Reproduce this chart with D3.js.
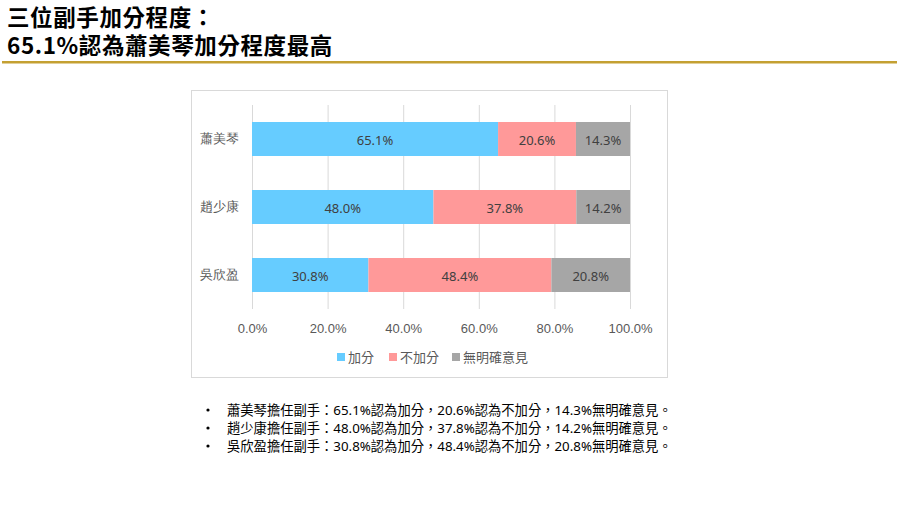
<!DOCTYPE html>
<html lang="zh-Hant-TW">
<head>
<meta charset="utf-8">
<script src="https://cdn.jsdelivr.net/npm/d3@7"></script>
<style>
  body { margin: 0; background: #fff; }
  svg { display: block; font-family: "Noto Sans", "Noto Sans CJK TC", sans-serif; }
  .title { font-family: "Noto Sans CJK TC", sans-serif; font-weight: 700; font-size: 22.5px; fill: #000; letter-spacing: 0.6px; }
  .cat text, .xaxis text { fill: #595959; font-size: 13px; }
  .lbl { fill: #404040; font-size: 13px; }
  .note { fill: #000; font-size: 13.3px; }
</style>
</head>
<body>
<div id="chart"></div>
<script>
var categories = ["蕭美琴", "趙少康", "吳欣盈"];
var seriesNames = ["加分", "不加分", "無明確意見"];
var addScore = [65.1, 48.0, 30.8];
var noAdd = [20.6, 37.8, 48.4];
var noOpinion = [14.3, 14.2, 20.8];
var xTicks = [0, 20, 40, 60, 80, 100];
var colors = ["#66ccff", "#ff9999", "#a6a6a6"];

var W = 900, H = 506;

var svg = d3.select("#chart").append("svg")
    .attr("width", W)
    .attr("height", H);

svg.append("rect").attr("width", W).attr("height", H).attr("fill", "#fff");

// title (two lines in one text element)
var title = svg.append("text").attr("class", "title");
title.append("tspan").attr("x", 7).attr("y", 26).text("三位副手加分程度：");
title.append("tspan").attr("x", 7).attr("y", 53.5).text("65.1%認為蕭美琴加分程度最高");
svg.append("rect")
    .attr("x", 2).attr("y", 61)
    .attr("width", 895).attr("height", 2.5)
    .attr("fill", "#c4a032");

// chart frame
svg.append("rect")
    .attr("x", 191.5).attr("y", 90.5)
    .attr("width", 476).attr("height", 287)
    .attr("fill", "none")
    .attr("stroke", "#d9d9d9");

var rows = categories.map(function(c, i) {
    return { name: c, 加分: addScore[i], 不加分: noAdd[i], 無明確意見: noOpinion[i] };
});

var x = d3.scaleLinear().domain([0, 100]).range([252, 630]);
var y = d3.scaleBand().domain(categories).range([105, 309])
    .paddingInner(0.5).paddingOuter(0.25);
var color = d3.scaleOrdinal().domain(seriesNames).range(colors);

// grid
svg.append("g").selectAll("line")
    .data(xTicks)
    .enter().append("line")
    .attr("x1", function(d) { return x(d) + 0.5; })
    .attr("x2", function(d) { return x(d) + 0.5; })
    .attr("y1", 105).attr("y2", 309)
    .attr("stroke", "#d9d9d9");

// x axis labels
var xAxis = d3.axisBottom(x)
    .tickValues(xTicks)
    .tickSize(0)
    .tickPadding(0)
    .tickFormat(function(d) { return d.toFixed(1) + "%"; });

var gx = svg.append("g")
    .attr("class", "xaxis")
    .attr("transform", "translate(0,320)")
    .call(xAxis);
gx.select(".domain").remove();
gx.selectAll("text").attr("dy", "0").attr("y", 13);

// category labels
var yAxis = d3.axisLeft(y).tickSize(0).tickPadding(0);
var gy = svg.append("g")
    .attr("class", "cat")
    .attr("transform", "translate(239,0)")
    .call(yAxis);
gy.select(".domain").remove();

// bars
var stack = d3.stack().keys(seriesNames);
var layers = stack(rows);

var layer = svg.selectAll(".layer")
    .data(layers)
    .enter().append("g")
    .attr("class", "layer")
    .attr("fill", function(d) { return color(d.key); });

layer.selectAll("rect")
    .data(function(d) { return d; })
    .enter().append("rect")
    .attr("x", function(d) { return x(d[0]); })
    .attr("y", function(d) { return y(d.data.name); })
    .attr("width", function(d) { return x(d[1]) - x(d[0]); })
    .attr("height", y.bandwidth());

layer.selectAll("text")
    .data(function(d) { return d; })
    .enter().append("text")
    .attr("class", "lbl")
    .attr("text-anchor", "middle")
    .attr("dominant-baseline", "central")
    .attr("x", function(d) { return (x(d[0]) + x(d[1])) / 2; })
    .attr("y", function(d) { return y(d.data.name) + y.bandwidth() / 2 + 1; })
    .text(function(d) { return (d[1] - d[0]).toFixed(1) + "%"; });

// legend
var legendX = [337, 389, 452];
var legend = svg.selectAll(".legend")
    .data(seriesNames)
    .enter().append("g")
    .attr("class", "legend")
    .attr("transform", function(d, i) { return "translate(" + legendX[i] + ",357)"; });

legend.append("rect")
    .attr("x", 0).attr("y", -4)
    .attr("width", 8).attr("height", 8)
    .attr("fill", function(d) { return color(d); });

legend.append("text")
    .attr("x", 11)
    .attr("dominant-baseline", "central")
    .attr("fill", "#595959")
    .attr("font-size", "13px")
    .text(function(d) { return d; });

// notes
var notes = svg.selectAll(".note-row")
    .data(rows)
    .enter().append("g")
    .attr("class", "note-row")
    .attr("transform", function(d, i) { return "translate(0," + (410 + i * 18) + ")"; });

notes.append("circle")
    .attr("cx", 208).attr("cy", 0).attr("r", 1.6)
    .attr("fill", "#000");

notes.append("text")
    .attr("class", "note")
    .attr("x", 227)
    .attr("dominant-baseline", "central")
    .text(function(d) {
        return d.name + "擔任副手：" + d["加分"].toFixed(1) + "%認為加分，" +
            d["不加分"].toFixed(1) + "%認為不加分，" +
            d["無明確意見"].toFixed(1) + "%無明確意見。";
    });
</script>
</body>
</html>
